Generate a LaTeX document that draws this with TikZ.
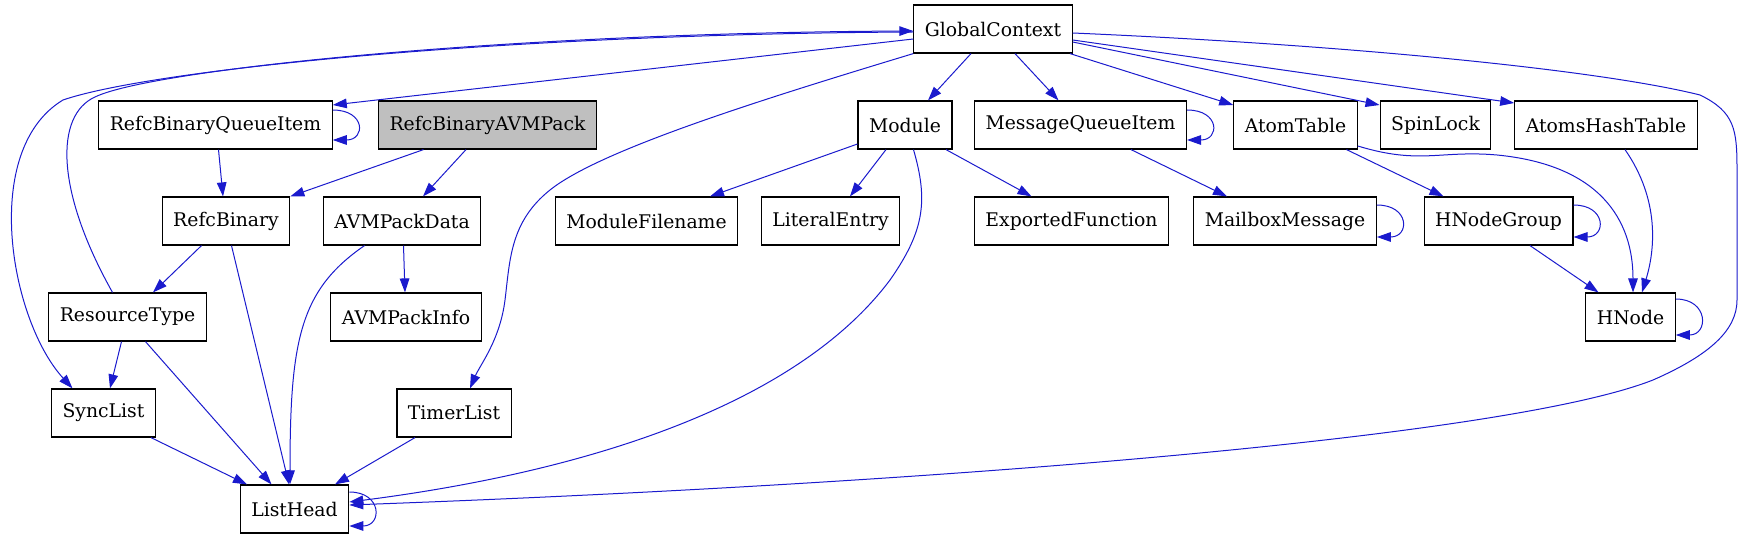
\documentclass[tikz,border=0pt]{standalone}
\usepackage{fontspec}
\setmainfont{DejaVu Serif}
\definecolor{edgeblue}{RGB}{26,26,205}
\definecolor{classgray}{RGB}{191,191,191}
\usetikzlibrary{arrows.meta}

\begin{document}
\begin{tikzpicture}[x=0.5pt, y=-0.5pt,
  cls/.style={draw=black, line width=0.6pt, minimum height=24pt,
    inner xsep=5.5pt, inner ysep=0pt, font=\fontsize{9.4}{11}\selectfont},
  dep/.style={-{Triangle[length=7pt,width=4.8pt]}, line width=0.5pt, edgeblue},
]
\useasboundingbox (0,0) rectangle (1745,539);

\node[cls] (gc) at (993,29) {GlobalContext};
\node[cls] (rbqi) at (215.5,125) {RefcBinaryQueueItem};
\node[cls, fill=classgray] (rbap) at (487.5,125) {RefcBinaryAVMPack};
\node[cls] (mod) at (905,125) {Module};
\node[cls] (mqi) at (1080.5,125) {MessageQueueItem};
\node[cls] (atab) at (1295.5,125) {AtomTable};
\node[cls] (spin) at (1435.5,125) {SpinLock};
\node[cls] (ahash) at (1606,125) {AtomsHashTable};
\node[cls] (rb) at (226,221) {RefcBinary};
\node[cls] (apd) at (402,221) {AVMPackData};
\node[cls] (mfile) at (646.5,221) {ModuleFilename};
\node[cls] (lit) at (830.5,221) {LiteralEntry};
\node[cls] (expf) at (1071.5,221) {ExportedFunction};
\node[cls] (mbox) at (1285,221) {MailboxMessage};
\node[cls] (hng) at (1498.5,221) {HNodeGroup};
\node[cls] (rtype) at (127.5,317) {ResourceType};
\node[cls] (apinfo) at (406,317) {AVMPackInfo};
\node[cls] (hnode) at (1630.5,317) {HNode};
\node[cls] (sync) at (103.5,413) {SyncList};
\node[cls] (timer) at (454,413) {TimerList};
\node[cls] (lhead) at (294.5,509) {ListHead};

\draw[dep] (gc.west|-0,39) -- (rbqi.east|-0,105);
\draw[dep] ([yshift=7.5pt]rbqi.east) .. controls +(33,0) and +(33,0) .. ([yshift=-7.5pt]rbqi.east);
\draw[dep] (rbqi.south-|218.5,0) -- (rb.north-|223,0);
\draw[dep] (rbap.south-|423.5,0) -- (rb.north east);
\draw[dep] (rbap.south-|466,0) -- (apd.north-|423,0);
\draw[dep] (rb.south-|201.5,0) -- (rtype.north-|153,0);
\draw[dep] (rb.south-|231.5,0) -- (lhead.north-|289,0);
\draw[dep] (rtype.north-|112.5,0) .. controls (55,190) and (55,115) .. (95,97)
  .. controls (150,70) and (500,33) .. (gc.west|-0,31);
\draw[dep] (gc.west|-0,32) .. controls (500,34) and (150,70) .. (63,100)
  .. controls (-20,150) and (10,320) .. (sync.north-|72.5,0);
\draw[dep] (rtype.south-|121.5,0) -- (sync.north-|110,0);
\draw[dep] (rtype.south-|145.5,0) -- (lhead.north-|271.5,0);
\draw[dep] (sync.south-|151,0) -- (lhead.north-|247,0);
\draw[dep] (apd.south-|364.5,0) .. controls (300,290) and (290,340) .. (lhead.north-|290,0);
\draw[dep] (apd.south-|403.5,0) -- (apinfo.north-|405,0);
\draw[dep] (gc.south west) .. controls (760,100) and (600,150) .. (550,190)
  .. controls (510,222) and (510,260) .. (505,300)
  .. controls (500,340) and (480,365) .. (timer.north-|470,0);
\draw[dep] (timer.south-|415,0) -- (lhead.north-|335,0);
\draw[dep] ([yshift=8.5pt]lhead.east) .. controls +(33,0) and +(33,0) .. ([yshift=-8.5pt]lhead.east);
\draw[dep] (gc.south-|971,0) -- (mod.north-|928,0);
\draw[dep] (gc.south-|1015,0) -- (mqi.north-|1058.5,0);
\draw[dep] ([yshift=7.5pt]mqi.east) .. controls +(33,0) and +(33,0) .. ([yshift=-7.5pt]mqi.east);
\draw[dep] (gc.south-|1070,0) -- (atab.west|-0,105);
\draw[dep] (gc.east|-0,42) -- (spin.west|-0,105);
\draw[dep] (gc.east|-0,40) -- (ahash.west|-0,103);
\draw[dep] (gc.east|-0,33) .. controls (1350,45) and (1600,70) .. (1700,95)
  .. controls (1735,112) and (1737,130) .. (1737,170) -- (1737,300)
  .. controls (1737,330) and (1710,355) .. (1653,380)
  .. controls (1500,440) and (900,485) .. (lhead.east|-0,505);
\draw[dep] (mod.west|-0,144) -- (mfile.north-|710,0);
\draw[dep] (mod.south-|886,0) -- (lit.north-|850,0);
\draw[dep] (mod.south-|946,0) -- (expf.north-|1031.5,0);
\draw[dep] (mod.south-|913.5,0) .. controls (928,200) and (925,230) .. (890,280)
  .. controls (800,400) and (600,470) .. (lhead.east|-0,502);
\draw[dep] (mqi.south-|1131,0) -- (mbox.north-|1227,0);
\draw[dep] ([yshift=8pt]mbox.east) .. controls +(33,0) and +(33,0) .. ([yshift=-8pt]mbox.east);
\draw[dep] (atab.south-|1346.5,0) -- (hng.north-|1443.5,0);
\draw[dep] (atab.east|-0,146) .. controls (1420,165) and (1440,150) .. (1497,155)
  .. controls (1600,165) and (1633,220) .. (hnode.north-|1633,0);
\draw[dep] (ahash.south-|1625,0) .. controls (1660,200) and (1655,250) .. (hnode.north-|1642,0);
\draw[dep] ([yshift=8pt]hng.east) .. controls +(33,0) and +(33,0) .. ([yshift=-8pt]hng.east);
\draw[dep] (hng.south-|1530,0) -- (hnode.north-|1598.5,0);
\draw[dep] ([yshift=9pt]hnode.east) .. controls +(33,0) and +(33,0) .. ([yshift=-9pt]hnode.east);
\end{tikzpicture}
\end{document}
